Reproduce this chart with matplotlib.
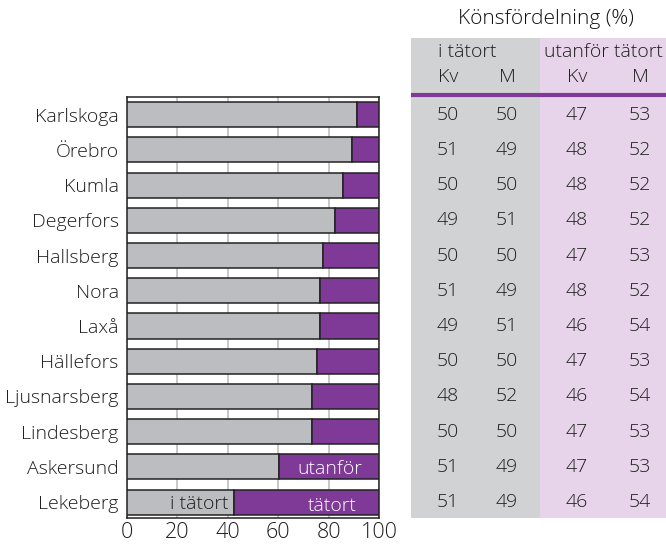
import numpy as np
import matplotlib.pyplot as plt
import matplotlib as mpl

mpl.rcParams['font.family'] = ['Open Sans', 'DejaVu Sans']
mpl.rcParams['font.weight'] = 'light'

# ================= Data =================
kommuner = ['Karlskoga', 'Örebro', 'Kumla', 'Degerfors', 'Hallsberg', 'Nora',
            'Laxå', 'Hällefors', 'Ljusnarsberg', 'Lindesberg', 'Askersund', 'Lekeberg']
i_tatort = [91.3, 89.3, 85.7, 82.5, 77.8, 76.6, 76.6, 75.5, 73.4, 73.4, 60.4, 42.6]
utanfor = [100 - v for v in i_tatort]

kv_i = [50, 51, 50, 49, 50, 51, 49, 50, 48, 50, 51, 51]
m_i = [50, 49, 50, 51, 50, 49, 51, 50, 52, 50, 49, 49]
kv_u = [47, 48, 48, 48, 47, 48, 46, 47, 46, 47, 47, 46]
m_u = [53, 52, 52, 52, 53, 52, 54, 53, 54, 53, 53, 54]

# colours
GRAY_BAR = '#bcbdc0'
PURPLE = '#7f3a98'
TAB_GRAY = '#d1d2d4'
TAB_LILAC = '#e8d4ea'
TXT = '#1e1e1e'
FS = 14

W, H = 666, 545
fig = plt.figure(figsize=(W / 100, H / 100), dpi=100)

# ================= Bar chart =================
left, right, top, bottom = 127, 379, 97, 518
ax = fig.add_axes([left / W, 1 - bottom / H, (right - left) / W, (bottom - top) / H])
y = np.arange(len(kommuner))
ax.barh(y, i_tatort, height=0.71, color=GRAY_BAR, edgecolor='#222222', linewidth=1.1, zorder=3)
ax.barh(y, utanfor, left=i_tatort, height=0.71, color=PURPLE, edgecolor='#222222',
        linewidth=1.1, zorder=3)
y_top, y_bot = -0.5, 11.45
ax.set_ylim(y_bot, y_top)
ax.set_xlim(0, 100)
ax.set_yticks(y)
ax.set_yticklabels(kommuner, fontsize=FS, color=TXT)
ax.set_xticks(range(0, 101, 20))
ax.set_xticklabels([str(v) for v in range(0, 101, 20)], fontsize=15.5, color=TXT)
ax.tick_params(length=0, pad=6)
ax.tick_params(axis='x', pad=3)
ax.grid(axis='x', color='#c4c4c4', linewidth=1.3, zorder=0)
for s in ax.spines.values():
    s.set_color('#222222')
    s.set_linewidth(1.1)

# in-bar labels
ax.text(80.5, 10.05, 'utanför', color='white', fontsize=FS, ha='center', va='center', zorder=4)
ax.text(81.3, 11.1, 'tätort', color='white', fontsize=FS, ha='center', va='center', zorder=4)
ax.text(40.3, 11.05, 'i tätort', color=TXT, fontsize=FS, ha='right', va='center', zorder=4)

# ================= Table =================
t_left, t_right, t_top = 411, 666, 38
px_per_unit = (bottom - top) / (y_bot - y_top)
t_ytop = y_top - (top - t_top) / px_per_unit
tax = fig.add_axes([t_left / W, 1 - bottom / H, (t_right - t_left) / W, (bottom - t_top) / H])
tax.set_xlim(t_left, t_right)
tax.set_ylim(y_bot, t_ytop)
tax.axis('off')
tax.axvspan(t_left, 540, color=TAB_GRAY, lw=0, zorder=0)
tax.axvspan(540, t_right, color=TAB_LILAC, lw=0, zorder=0)


def py(p):
    # pixel row -> data row
    return y_top - (top - p) / px_per_unit


tax.plot([t_left, t_right], [py(95), py(95)], color=PURPLE, lw=3, solid_capstyle='butt', zorder=2)
tax.text(467, py(52), 'i tätort', fontsize=FS, color=TXT, ha='center', va='center')
tax.text(603, py(52), 'utanför tätort', fontsize=FS, color=TXT, ha='center', va='center')
col_x = [448, 507, 577, 640]
for cx, lab in zip(col_x, ['Kv', 'M', 'Kv', 'M']):
    tax.text(cx, py(77), lab, fontsize=FS, color=TXT, ha='center', va='center')
for i in range(len(kommuner)):
    for cx, vals in zip(col_x, [kv_i, m_i, kv_u, m_u]):
        tax.text(cx, i, str(vals[i]), fontsize=FS, color=TXT, ha='center', va='center')

fig.text(546 / W, 1 - 19 / H, 'Könsfördelning (%)', fontsize=15, color='#111111',
         ha='center', va='center')

plt.savefig('out.png', dpi=100)
plt.close()
